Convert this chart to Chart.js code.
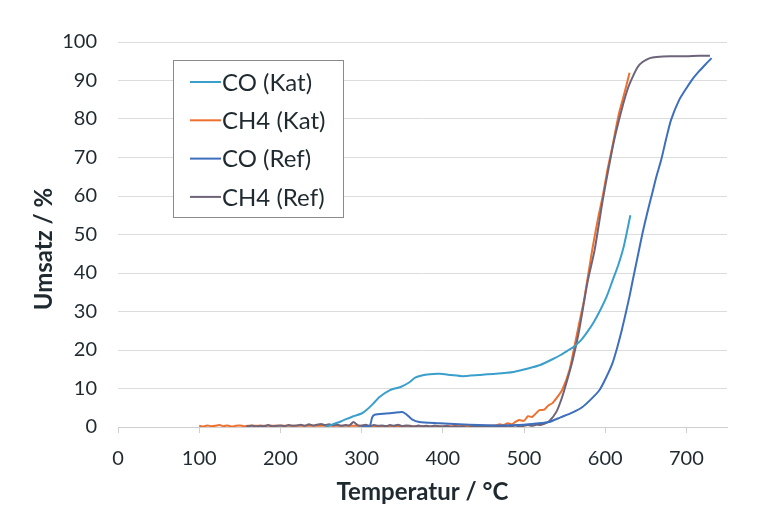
<!DOCTYPE html>
<html>
<head>
<meta charset="utf-8">
<script src="https://cdn.jsdelivr.net/npm/chart.js@4.4.0/dist/chart.umd.min.js"></script>
<style>
    html, body { margin: 0; padding: 0; background: #fff; }
    #wrap { width: 777px; height: 510px; }
</style>
</head>
<body>
<div id="wrap"><canvas id="umsatz" width="777" height="510"></canvas></div>
<script>
// values (temperature in °C, conversion in %)
const seriesNames = ["CO (Kat)", "CH4 (Kat)", "CO (Ref)", "CH4 (Ref)"];
const xTicks = [0, 100, 200, 300, 400, 500, 600, 700];
const yTicks = [0, 10, 20, 30, 40, 50, 60, 70, 80, 90, 100];

const coKatT = [255, 262, 275, 290, 300, 306, 314, 322, 335, 348, 358, 366, 374, 384, 396, 410, 424, 445, 465, 487, 505, 520, 535, 545, 555, 561, 570, 578, 586, 594, 602, 609, 616, 623, 631];
const coKatY = [0, 0.5, 1.5, 2.8, 3.5, 4.4, 6.0, 7.8, 9.6, 10.4, 11.5, 12.8, 13.4, 13.7, 13.8, 13.5, 13.2, 13.5, 13.8, 14.3, 15.2, 16.1, 17.6, 18.7, 20.0, 20.8, 22.5, 24.7, 27.3, 30.4, 34.0, 38.0, 42.0, 47.0, 55.0];

const ch4KatT = [100, 105, 110, 115, 120, 125, 130, 135, 140, 145, 150, 155, 160, 200, 250, 300, 350, 400, 450, 465, 470, 475, 480, 485, 490, 494, 500, 505, 510, 515, 519, 525, 530, 535, 540, 547, 556, 562, 568, 574, 584, 591, 597, 603, 608, 617, 624, 630];
const ch4KatY = [0.3, 0.1, 0.4, 0.2, 0.3, 0.5, 0.2, 0.4, 0.1, 0.3, 0.4, 0.2, 0.3, 0.3, 0.3, 0.3, 0.2, 0.2, 0.3, 0.4, 0.7, 0.5, 1.0, 0.7, 1.4, 1.8, 1.6, 2.8, 2.6, 3.6, 4.4, 4.5, 5.6, 6.2, 7.5, 9.6, 14.8, 20.8, 27.0, 33.0, 46.0, 54.0, 60.0, 67.0, 72.0, 81.5, 87.0, 92.0];

const coRefT = [300, 310, 313, 316, 330, 340, 350, 355, 362, 371, 396, 420, 445, 470, 500, 515, 531, 545, 560, 572, 583, 593, 601, 609, 615, 620, 625, 630, 634, 640, 646, 652, 658, 663, 669, 675, 681, 691, 700, 708, 716, 724, 731];
const coRefY = [0, 0.3, 2.5, 3.2, 3.5, 3.7, 3.9, 3.3, 2.0, 1.3, 1.0, 0.7, 0.5, 0.4, 0.6, 0.9, 1.3, 2.5, 3.8, 5.2, 7.3, 9.6, 12.8, 16.6, 20.8, 24.8, 29.3, 34.0, 38.2, 44.3, 50.4, 55.8, 60.8, 65.0, 69.4, 74.8, 79.7, 84.9, 88.0, 90.5, 92.5, 94.3, 95.8];

const ch4RefT = [158, 160, 165, 170, 175, 180, 185, 190, 195, 200, 205, 210, 215, 220, 225, 230, 235, 240, 245, 250, 255, 260, 265, 270, 275, 280, 285, 290, 295, 300, 305, 310, 315, 320, 325, 330, 335, 340, 345, 350, 355, 360, 365, 370, 375, 380, 385, 390, 395, 400, 405, 410, 415, 420, 425, 430, 435, 440, 445, 450, 455, 460, 465, 470, 475, 480, 485, 490, 495, 500, 505, 510, 515, 520, 525, 531, 540, 547, 553, 560, 568, 578, 587, 597, 604, 611, 621, 628, 634, 640, 646, 655, 663, 680, 700, 715, 729];
const ch4RefY = [0.2, 0.2, 0.4, 0.1, 0.3, 0.2, 0.5, 0.2, 0.3, 0.4, 0.2, 0.5, 0.3, 0.4, 0.6, 0.3, 0.7, 0.4, 0.6, 0.8, 0.5, 0.7, 0.4, 0.6, 0.3, 0.5, 0.4, 1.3, 0.5, 0.3, 0.6, 0.2, 0.5, 0.3, 0.4, 0.2, 0.5, 0.3, 0.6, 0.2, 0.4, 0.3, 0.1, 0.4, 0.2, 0.3, 0.1, 0.4, 0.2, 0.1, 0.3, 0.0, 0.2, -0.1, 0.1, -0.2, 0.0, 0.2, -0.1, 0.1, 0.0, 0.3, 0.1, 0.2, 0.0, 0.3, 0.2, 0.4, 0.1, 0.3, 0.5, 0.3, 0.6, 0.5, 0.8, 1.5, 4.0, 7.8, 12.0, 17.4, 25.2, 37.4, 46.0, 59.0, 67.0, 74.5, 83.0, 88.0, 91.0, 93.5, 94.8, 95.8, 96.1, 96.3, 96.3, 96.4, 96.4];

const colors = ["#3a9fcb", "#ef6f2e", "#3d6fbd", "#6e6479"];
const font = "Lato, 'Open Sans', sans-serif";
const textColor = "#1f2a30";

function toPoints(xs, ys) {
    return xs.map((x, i) => ({x: x, y: ys[i]}));
}

// legend box floating inside the plot, drawn by hand
const legendBox = {
    id: "legendBox",
    afterDatasetsDraw(chart) {
        const ctx = chart.ctx;
        const left = 173, top = 60, width = 170, height = 157;
        ctx.save();
        ctx.fillStyle = "#fff";
        ctx.fillRect(left, top, width, height);
        ctx.strokeStyle = "#8a8a8a";
        ctx.lineWidth = 1;
        ctx.strokeRect(left + 0.5, top + 0.5, width, height);
        ctx.font = "24px " + font;
        ctx.textBaseline = "middle";
        chart.data.datasets.forEach((ds, i) => {
            const y = 82 + i * 38.3;
            ctx.strokeStyle = ds.borderColor;
            ctx.lineWidth = 2;
            ctx.beginPath();
            ctx.moveTo(190, y);
            ctx.lineTo(221, y);
            ctx.stroke();
            ctx.fillStyle = textColor;
            ctx.fillText(ds.label, 222, y + 1);
        });
        ctx.restore();
    }
};

// axis titles placed where the original has them
const axisTitles = {
    id: "axisTitles",
    afterDraw(chart) {
        const ctx = chart.ctx;
        const area = chart.chartArea;
        ctx.save();
        ctx.fillStyle = textColor;
        ctx.font = "bold 24px " + font;
        ctx.textAlign = "center";
        ctx.textBaseline = "middle";
        ctx.fillText("Temperatur / °C", (area.left + area.right) / 2, 492);
        ctx.translate(44, 249);
        ctx.rotate(-Math.PI / 2);
        ctx.fillText("Umsatz / %", 0, 0);
        ctx.restore();
    }
};

const datasets = [
    {label: seriesNames[0], data: toPoints(coKatT, coKatY), order: 0},
    {label: seriesNames[1], data: toPoints(ch4KatT, ch4KatY), order: 3},
    {label: seriesNames[2], data: toPoints(coRefT, coRefY), order: 1},
    {label: seriesNames[3], data: toPoints(ch4RefT, ch4RefY), order: 2},
].map((ds, i) => Object.assign(ds, {
    borderColor: colors[i],
    backgroundColor: colors[i],
    borderWidth: 2,
    pointRadius: 0,
    tension: 0.2,
    fill: false,
}));

new Chart(document.getElementById("umsatz"), {
    type: "line",
    data: {datasets: datasets},
    options: {
        responsive: false,
        animation: false,
        layout: {padding: {top: 42, right: 50, left: 0, bottom: 0}},
        plugins: {
            legend: {display: false},
            tooltip: {enabled: false},
        },
        scales: {
            x: {
                type: "linear",
                min: 0,
                max: 750,
                afterBuildTicks: scale => { scale.ticks = xTicks.map(v => ({value: v})); },
                afterFit: scale => { scale.height = 83; },
                grid: {drawOnChartArea: false, drawTicks: true, tickLength: 6, color: "#cfcfcf"},
                border: {color: "#cfcfcf"},
                ticks: {
                    color: textColor,
                    font: {family: font, size: 20},
                    padding: 14,
                    maxRotation: 0,
                },
            },
            y: {
                min: 0,
                max: 100,
                afterBuildTicks: scale => { scale.ticks = yTicks.map(v => ({value: v})); },
                afterFit: scale => { scale.width = 118; },
                grid: {color: "#dcdcdc", drawTicks: false},
                border: {display: false},
                ticks: {
                    color: textColor,
                    font: {family: font, size: 20},
                    padding: 21,
                },
            },
        },
    },
    plugins: [legendBox, axisTitles],
});
</script>
</body>
</html>
